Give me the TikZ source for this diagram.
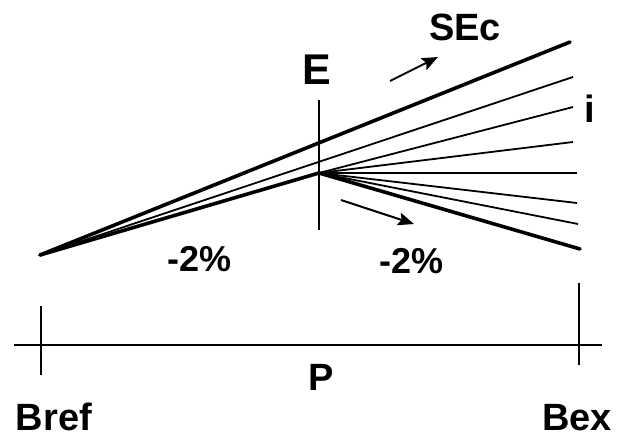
\documentclass[tikz,border=0pt]{standalone}
\usepackage{fontspec}
\setmainfont{Liberation Sans}
\usetikzlibrary{arrows.meta, positioning, calc}
\tikzset{
  lbl/.style={font=\fontsize{38}{42}\selectfont\bfseries, inner sep=0pt},
  heavy/.style={line width=3.6pt, line cap=round},
  light/.style={line width=1.8pt},
  axis/.style={line width=2pt},
  arr/.style={-{Stealth[length=16pt, width=13pt, inset=3pt]}, line width=2pt},
}

\begin{document}
\begin{tikzpicture}[x=1pt, y=-1pt]
    \useasboundingbox (0,0) rectangle (618,439);
    % profile
    \coordinate (o) at (40,255);
    \coordinate (e) at (319,173);
    \coordinate (top) at (570,42);
    \coordinate (bot) at (580,249);
    \draw[heavy] (o) -- (top);
    \draw[heavy] (o) -- (e) -- (bot);
    \draw[light] (o) -- (573,77);
    \foreach \yy/\xx in {107/573, 142/573, 173/577, 203/577, 224/578}
      \draw[light] (e) -- (\xx,\yy);
    \draw[axis] (319,100) -- (319,230);
    % arrows
    \coordinate (a1) at (390,81);
    \coordinate (a2) at (438,57);
    \coordinate (b1) at (341,200);
    \coordinate (b2) at (414,224);
    \draw[arr] (a1) -- (a2);
    \draw[arr] (b1) -- (b2);
    % labels
    \node[lbl] (sec) at (465,27) {SEc};
    \node[lbl, font=\fontsize{43}{46}\selectfont\bfseries] (elbl) at (317,70) {E};
    \node[lbl] (ilbl) at (590,109) {i};
    \node[lbl, font=\fontsize{36}{40}\selectfont\bfseries] (gl) at (200,259) {-2\%};
    \node[lbl, font=\fontsize{36}{40}\selectfont\bfseries] (gr) at (412,261) {-2\%};
    % base line
    \coordinate (x0) at (14,345);
    \coordinate (x1) at (602,345);
    \draw[axis] (x0) -- (x1);
    \draw[axis] (41,306) -- (41,375);
    \draw[axis] (579,283) -- (579,365);
    \node[lbl] (p) at (321,377) {P};
    \node[lbl] (bref) at (54,417) {Bref};
    \node[lbl] (bex) at (577,418) {Bex};
\end{tikzpicture}
\end{document}
